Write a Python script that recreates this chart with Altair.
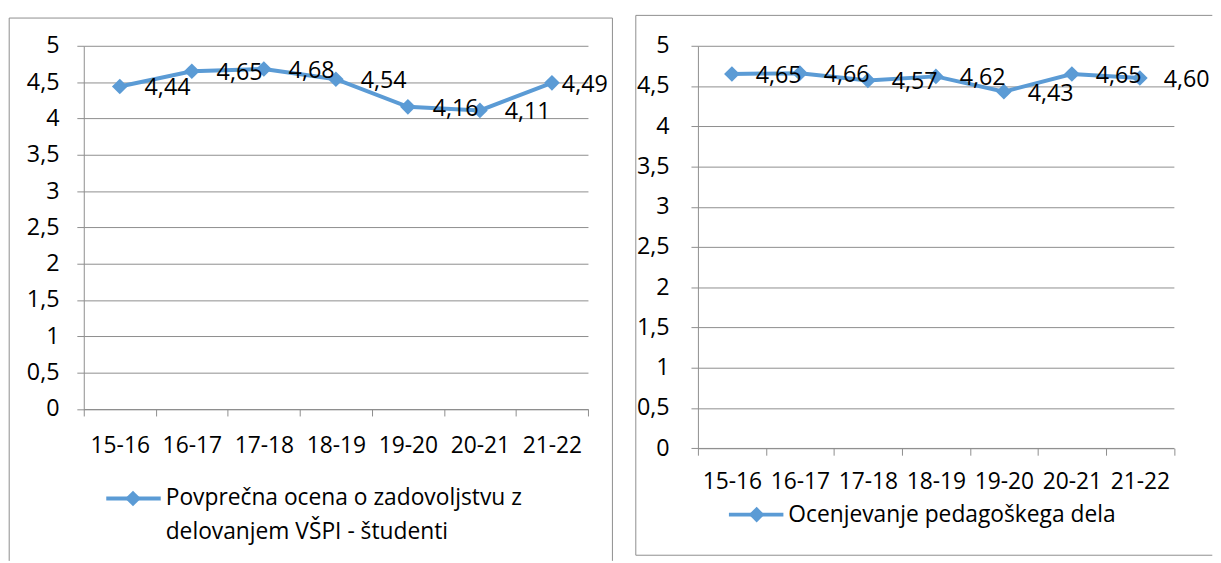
import altair as alt
import pandas as pd

cats = ["15-16", "16-17", "17-18", "18-19", "19-20", "20-21", "21-22"]
vals_left = [4.44, 4.65, 4.68, 4.54, 4.16, 4.11, 4.49]
vals_right = [4.65, 4.66, 4.57, 4.62, 4.43, 4.65, 4.60]
legend_left = ["Povprečna ocena o zadovoljstvu z", "delovanjem VŠPI - študenti"]
legend_right = ["Ocenjevanje pedagoškega dela"]
y_ticks = [0, 0.5, 1, 1.5, 2, 2.5, 3, 3.5, 4, 4.5, 5]

BLUE = "#5B9BD5"
GRID = "#8e8e8e"
FONT = "Open Sans"
FS = 23.5
FSX = 23


def make_panel(vals, legend_lines, ox, oy, w, h, border, legend, ylabpad, xlabpad, squeeze_last):
    df = pd.DataFrame({
        "cat": cats,
        "v": vals,
        "lab": [f"{v:.2f}".replace(".", ",") for v in vals],
    })
    base = alt.Chart(df)
    x = alt.X("cat:N", sort=cats,
              scale=alt.Scale(type="band", paddingInner=0, paddingOuter=0),
              axis=alt.Axis(title=None, labelAngle=0, tickBand="extent", grid=False,
                            domainColor=GRID, tickColor=GRID, tickSize=7,
                            labelFont=FONT, labelFontSize=FSX, labelColor="black",
                            labelPadding=xlabpad, labelOverlap=False))
    y = alt.Y("v:Q", scale=alt.Scale(domain=[0, 5], nice=False),
              axis=alt.Axis(title=None, values=y_ticks, grid=True, gridColor=GRID,
                            domainColor=GRID, tickColor=GRID, tickSize=7,
                            labelFont=FONT, labelFontSize=FS, labelColor="black",
                            labelPadding=ylabpad, labelOverlap=False,
                            labelExpr="replace(toString(datum.value), '.', ',')"))
    line = base.mark_line(
        color=BLUE, strokeWidth=4,
        point=alt.OverlayMarkDef(shape="diamond", size=250, color=BLUE, filled=True, opacity=1),
    ).encode(x=x, y=y)

    layers = [line]
    last = cats[-1]
    if squeeze_last:
        layers.append(base.transform_filter(alt.datum.cat != last).mark_text(
            align="left", baseline="middle", dx=25, dy=2,
            font=FONT, fontSize=FS, color="black").encode(x=x, y=y, text="lab:N"))
        layers.append(base.transform_filter(alt.datum.cat == last).mark_text(
            align="left", baseline="middle", dx=10, dy=2,
            font=FONT, fontSize=FS, color="black").encode(x=x, y=y, text="lab:N"))
    else:
        layers.append(base.mark_text(
            align="left", baseline="middle", dx=24, dy=2,
            font=FONT, fontSize=FS, color="black").encode(x=x, y=y, text="lab:N"))

    one = alt.Chart(pd.DataFrame({"a": [0]}))

    def R(px):
        return px - ox

    def C(py):
        return py - oy

    # panel border (decoration)
    for (x1, y1, x2, y2) in border:
        layers.append(one.mark_rule(color=GRID, strokeWidth=1).encode(
            x=alt.value(R(x1)), x2=alt.value(R(x2)),
            y=alt.value(C(y1)), y2=alt.value(C(y2))))

    # legend
    lx0, lx1, ly, dxm, tx, gap = legend
    layers.append(one.mark_rule(color=BLUE, strokeWidth=4).encode(
        x=alt.value(R(lx0)), x2=alt.value(R(lx1)), y=alt.value(C(ly)), y2=alt.value(C(ly))))
    layers.append(one.mark_point(shape="diamond", size=250, filled=True, color=BLUE, opacity=1).encode(
        x=alt.value(R(dxm)), y=alt.value(C(ly))))
    for i, t in enumerate(legend_lines):
        layers.append(one.mark_text(text=t, align="left", baseline="middle",
                                    font=FONT, fontSize=FSX, color="black").encode(
            x=alt.value(R(tx)), y=alt.value(C(ly + i * gap))))

    return alt.layer(*layers).properties(width=w, height=h)


p1 = make_panel(
    vals_left, legend_left, ox=83.3, oy=40, w=509, h=366.7,
    border=[(8, 12, 617, 12), (8, 12, 8, 560), (617, 12, 617, 560)],
    legend=(106, 161, 497, 133, 166, 34), ylabpad=18, xlabpad=19, squeeze_last=True)

p2 = make_panel(
    vals_right, legend_right, ox=701.7, oy=42.7, w=480.5, h=406.3,
    border=[(639, 12, 1221, 12), (639, 12, 639, 557), (639, 557, 1221, 557)],
    legend=(733, 788, 516, 761, 793, 34), ylabpad=22, xlabpad=16, squeeze_last=False)

chart = alt.hconcat(p1, p2, spacing=21).configure(
    padding={"left": 0.5, "top": 3.5, "right": 0, "bottom": 0}
).configure_view(strokeWidth=0)

chart.save("out.html", embed_options={"renderer": "svg", "actions": False})
